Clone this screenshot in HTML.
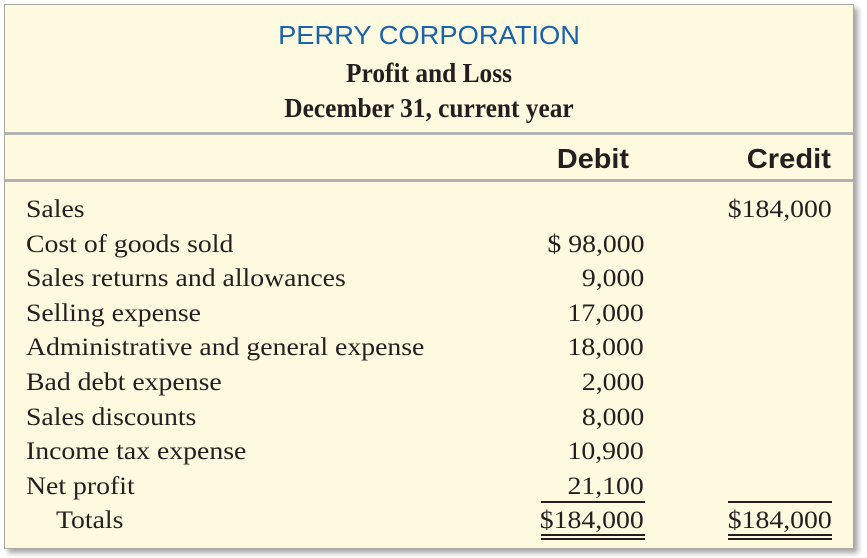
<!DOCTYPE html>
<html><head><meta charset="utf-8"><style>
body{margin:0;width:867px;height:558px;background:#fff;position:relative;overflow:hidden}
#box{position:absolute;left:4px;top:4px;width:848px;height:543px;background:#fefadf;border:1px solid #a8a8a8;box-shadow:4px 4px 5px rgba(0,0,0,0.35)}
.t{position:absolute;white-space:nowrap;line-height:1}
.c{left:0;width:858px;text-align:center}
.serif{font-family:"Liberation Serif",serif;font-size:25px;color:#231f20}
.row{transform:scaleX(1.11);transform-origin:left center}
.sep{position:absolute;left:5px;width:848px;height:3px;background:#b3b3b3}
.r1{right:223px;text-align:right;transform-origin:right center}
.r2{right:35px;text-align:right;transform-origin:right center}
.ln{position:absolute;height:1.5px;background:#231f20}
</style></head><body>
<div id="box"></div>
<div class="t c" style="top:22px;font-family:'Liberation Sans',sans-serif;font-size:26px;color:#1a62ad;transform:scaleX(1.05)">PERRY CORPORATION</div>
<div class="t c serif" style="top:60px;font-size:27px;font-weight:bold;transform:scaleX(0.94)">Profit and Loss</div>
<div class="t c serif" style="top:95px;font-size:27px;font-weight:bold;transform:scaleX(0.94)">December 31, current year</div>
<div class="sep" style="top:132px"></div>
<div class="t" style="top:145px;right:238px;font-family:'Liberation Sans',sans-serif;font-weight:bold;font-size:28px;color:#231f20;transform:scaleX(1.03);transform-origin:right center">Debit</div>
<div class="t" style="top:145px;right:36px;font-family:'Liberation Sans',sans-serif;font-weight:bold;font-size:28px;color:#231f20;transform:scaleX(1.04);transform-origin:right center">Credit</div>
<div class="sep" style="top:179px"></div>
<div id="rows"></div>
<div class="ln" style="left:541px;width:104px;top:501px"></div>
<div class="ln" style="left:541px;width:104px;top:534px"></div>
<div class="ln" style="left:541px;width:104px;top:538px"></div>
<div class="ln" style="left:728px;width:104px;top:501px"></div>
<div class="ln" style="left:728px;width:104px;top:534px"></div>
<div class="ln" style="left:728px;width:104px;top:538px"></div>
<script>
const labels=["Sales","Cost of goods sold","Sales returns and allowances","Selling expense","Administrative and general expense","Bad debt expense","Sales discounts","Income tax expense","Net profit","Totals"];
const debits=["","$ 98,000","9,000","17,000","18,000","2,000","8,000","10,900","21,100","$184,000"];
const credits=["$184,000","","","","","","","","","$184,000"];
const root=document.getElementById('rows');
labels.forEach((l,i)=>{
  const top=197+i*34.6;
  const a=document.createElement('div');
  a.className='t serif row';a.style.top=top+'px';a.style.left=(i==9?56:26)+'px';a.textContent=l;
  
  
  root.appendChild(a);
  if(debits[i]){const d=document.createElement('div');
  d.className='t serif row r1';d.style.top=top+'px';d.textContent=debits[i];
  
  
  root.appendChild(d);}
  if(credits[i]){const c=document.createElement('div');
  c.className='t serif row r2';c.style.top=top+'px';c.textContent=credits[i];
  
  
  root.appendChild(c);}
});
</script>
</body></html>
